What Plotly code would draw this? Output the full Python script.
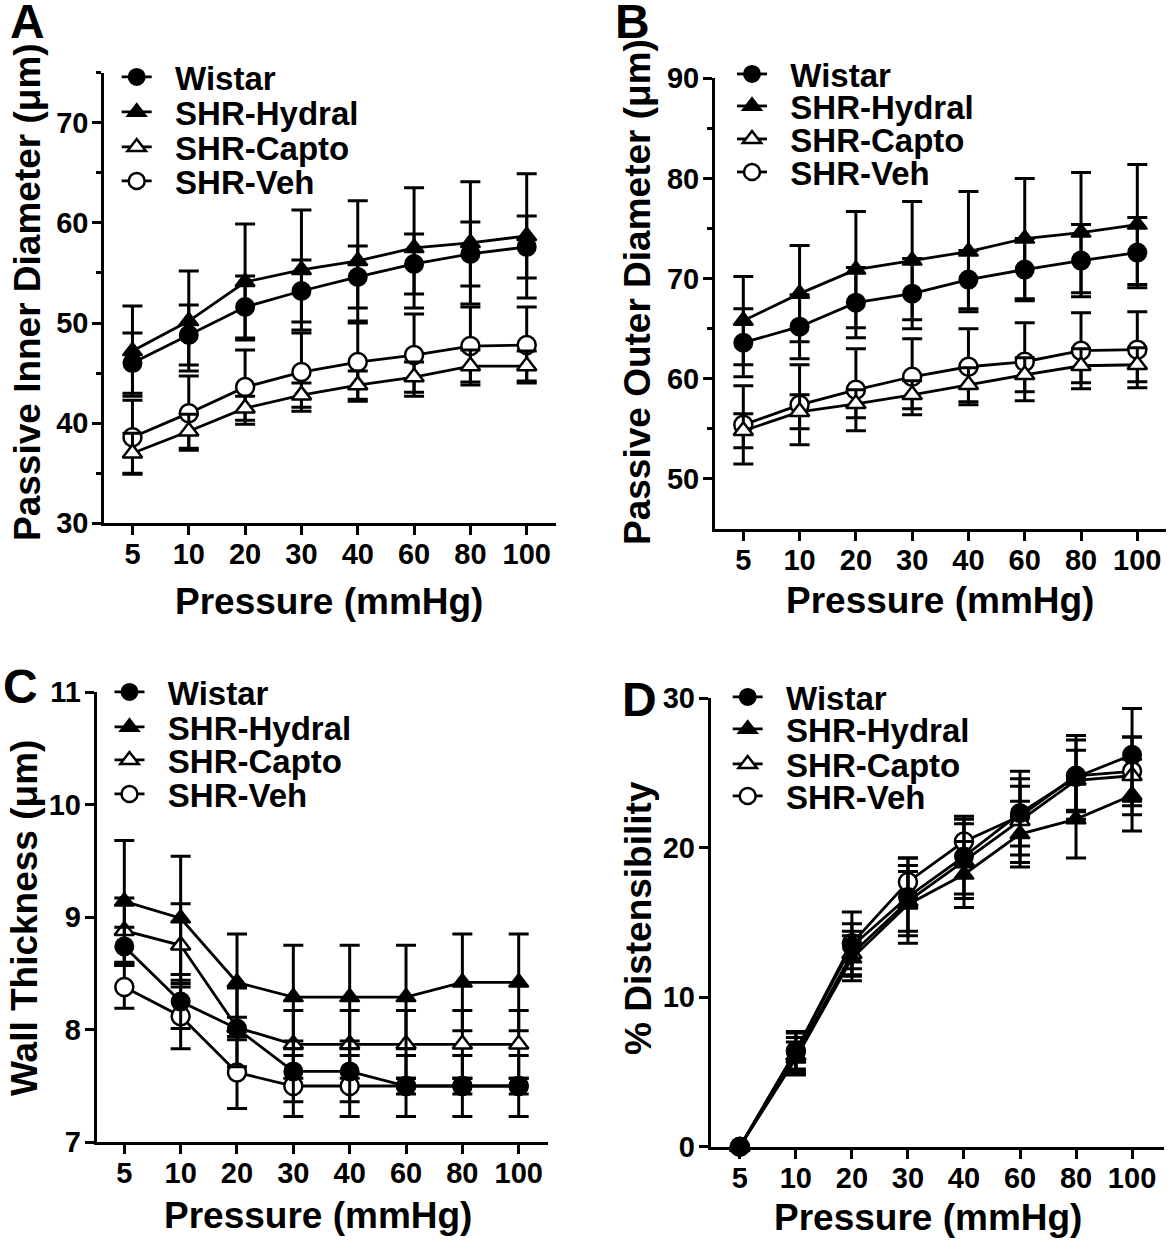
import plotly.graph_objects as go

# ---------------- data ----------------
pressure = ["5", "10", "20", "30", "40", "60", "80", "100"]
groups = ["Wistar", "SHR-Hydral", "SHR-Capto", "SHR-Veh"]

# Panel A: passive inner diameter (um)
inner_wistar = [46.0, 48.8, 51.6, 53.2, 54.6, 55.9, 56.9, 57.6]
inner_wistar_err = [3.0, 3.0, 3.1, 3.1, 3.1, 3.0, 3.2, 3.1]
inner_hydral = [47.2, 50.2, 54.1, 55.3, 56.2, 57.5, 58.0, 58.7]
inner_hydral_err = [4.5, 5.0, 5.8, 6.0, 6.0, 6.0, 6.1, 6.2]
inner_capto = [37.0, 39.2, 41.5, 42.8, 43.8, 44.6, 45.7, 45.7]
inner_capto_err = [2.0, 1.7, 1.2, 1.2, 1.4, 1.5, 1.6, 1.5]
inner_veh = [38.6, 41.0, 43.6, 45.1, 46.1, 46.8, 47.7, 47.8]
inner_veh_err = [3.7, 3.7, 3.7, 3.9, 3.9, 4.1, 3.9, 3.8]

# Panel B: passive outer diameter (um)
outer_wistar = [63.6, 65.2, 67.6, 68.5, 69.9, 70.9, 71.8, 72.6]
outer_wistar_err = [3.4, 3.2, 3.5, 3.5, 2.9, 3.1, 3.6, 3.5]
outer_hydral = [65.8, 68.5, 70.9, 71.8, 72.7, 74.0, 74.6, 75.4]
outer_hydral_err = [4.4, 4.8, 5.8, 5.9, 6.0, 6.0, 6.0, 6.0]
outer_capto = [54.8, 56.7, 57.5, 58.4, 59.4, 60.4, 61.3, 61.4]
outer_capto_err = [1.7, 1.7, 1.4, 1.4, 1.7, 1.7, 1.7, 1.7]
outer_veh = [55.4, 57.4, 58.9, 60.2, 61.2, 61.7, 62.8, 62.9]
outer_veh_err = [3.9, 4.0, 4.1, 3.8, 3.8, 3.9, 3.8, 3.8]

# Panel C: wall thickness (um)
wall_wistar = [8.74, 8.25, 8.01, 7.63, 7.63, 7.50, 7.50, 7.50]
wall_wistar_err = [0.17, 0.24, 0.10, 0.27, 0.27, 0.27, 0.27, 0.27]
wall_hydral = [9.14, 8.99, 8.42, 8.29, 8.29, 8.29, 8.42, 8.42]
wall_hydral_err = [0.54, 0.55, 0.43, 0.46, 0.46, 0.46, 0.43, 0.43]
wall_capto = [8.88, 8.75, 8.02, 7.87, 7.87, 7.87, 7.87, 7.87]
wall_capto_err = [0.29, 0.37, 0.35, 0.30, 0.30, 0.30, 0.30, 0.30]
wall_veh = [8.38, 8.12, 7.62, 7.50, 7.50, 7.50, 7.50, 7.50]
wall_veh_err = [0.19, 0.29, 0.32, 0.27, 0.27, 0.07, 0.07, 0.07]

# Panel D: % distensibility
dist_wistar = [0.0, 6.4, 13.4, 16.7, 19.4, 22.3, 24.7, 26.2]
dist_wistar_err = [0.0, 1.3, 1.5, 2.6, 2.5, 2.8, 2.8, 3.1]
dist_hydral = [0.0, 5.9, 12.6, 16.2, 18.2, 20.9, 21.9, 23.5]
dist_hydral_err = [0.0, 1.1, 1.5, 2.6, 2.2, 2.2, 2.6, 2.4]
dist_capto = [0.0, 6.1, 12.9, 16.4, 19.1, 21.8, 24.5, 24.8]
dist_capto_err = [0.0, 1.2, 1.5, 2.0, 2.5, 2.8, 2.0, 2.6]
dist_veh = [0.0, 6.4, 13.6, 17.7, 20.4, 22.1, 24.8, 25.1]
dist_veh_err = [0.0, 1.2, 2.1, 1.6, 1.7, 2.0, 2.4, 2.3]

# ---------------- layout helpers ----------------
W, H = 1169, 1251
FONT = "Liberation Sans, Arial, Helvetica, sans-serif"


def fx(px):
    return px / W


def fy(px):
    return 1 - px / H


styles = {
    "Wistar": dict(symbol="circle", size=18, color="black", line=dict(color="black", width=2)),
    "SHR-Hydral": dict(symbol="triangle-up", size=17, color="black", line=dict(color="black", width=2)),
    "SHR-Capto": dict(symbol="triangle-up", size=17, color="white", line=dict(color="black", width=2.5)),
    "SHR-Veh": dict(symbol="circle", size=18, color="white", line=dict(color="black", width=2.5)),
}

panels = [
    dict(letter="A", ax="", xdom=(104.3, 556), ydom=(523.3, 72.7), yrange=[30, 75],
         ytickvals=[30, 40, 50, 60, 70], minor=[35, 45, 55, 65, 75], xrange=[-0.5, 7.52],
         ytitle="Passive Inner Diameter (\u03bcm)", ytitle_pos=(28, 292), xtitle_pos=(329, 601),
         letter_pos=(27, 21), leg_x=137.7, leg_y=[77, 112, 147, 181],
         series={"Wistar": (inner_wistar, inner_wistar_err), "SHR-Hydral": (inner_hydral, inner_hydral_err),
                 "SHR-Capto": (inner_capto, inner_capto_err), "SHR-Veh": (inner_veh, inner_veh_err)}),
    dict(letter="B", ax="2", xdom=(715, 1166), ydom=(529, 78.3), yrange=[45, 90],
         ytickvals=[50, 60, 70, 80, 90], minor=[55, 65, 75, 85], xrange=[-0.503, 7.51],
         ytitle="Passive Outer Diameter (\u03bcm)", ytitle_pos=(638, 292), xtitle_pos=(940, 600),
         letter_pos=(632, 21), leg_x=753, leg_y=[74, 106, 139, 172],
         series={"Wistar": (outer_wistar, outer_wistar_err), "SHR-Hydral": (outer_hydral, outer_hydral_err),
                 "SHR-Capto": (outer_capto, outer_capto_err), "SHR-Veh": (outer_veh, outer_veh_err)}),
    dict(letter="C", ax="3", xdom=(96.7, 548), ydom=(1142.3, 692), yrange=[7, 11],
         ytickvals=[7, 8, 9, 10, 11], minor=[], xrange=[-0.49, 7.52],
         ytitle="Wall Thickness (\u03bcm)", ytitle_pos=(24, 918), xtitle_pos=(318, 1215),
         letter_pos=(20, 686), leg_x=130.5, leg_y=[692, 727, 760, 794],
         series={"Wistar": (wall_wistar, wall_wistar_err), "SHR-Hydral": (wall_hydral, wall_hydral_err),
                 "SHR-Capto": (wall_capto, wall_capto_err), "SHR-Veh": (wall_veh, wall_veh_err)}),
    dict(letter="D", ax="4", xdom=(710.7, 1164), ydom=(1146.7, 698), yrange=[0, 30],
         ytickvals=[0, 10, 20, 30], minor=[], xrange=[-0.52, 7.57],
         ytitle="% Distensibility", ytitle_pos=(638, 918), xtitle_pos=(928, 1217),
         letter_pos=(639, 699), leg_x=748.7, leg_y=[697, 729, 764, 796],
         series={"Wistar": (dist_wistar, dist_wistar_err), "SHR-Hydral": (dist_hydral, dist_hydral_err),
                 "SHR-Capto": (dist_capto, dist_capto_err), "SHR-Veh": (dist_veh, dist_veh_err)}),
]

fig = go.Figure()
layout = dict(
    width=W, height=H, autosize=False, showlegend=True,
    margin=dict(l=0, r=0, t=0, b=0, pad=0, autoexpand=False),
    paper_bgcolor="white", plot_bgcolor="white",
    font=dict(family=FONT, color="black", weight="bold"),
    annotations=[],
)

draw_order = ["SHR-Veh", "SHR-Capto", "SHR-Hydral", "Wistar"]
legend_counter = 1
legend_ids = {}
for p in panels:
    for g in groups:
        legend_counter += 1
        legend_ids[(p["letter"], g)] = "legend%d" % legend_counter

LEG_OFFSET = 21
for p in panels:
    ax = p["ax"]
    xname, yname = "xaxis" + ax, "yaxis" + ax
    layout[xname] = dict(
        domain=[fx(p["xdom"][0]), fx(p["xdom"][1])],
        anchor="y" + ax, type="category", range=p["xrange"],
        categoryorder="array", categoryarray=pressure,
        showline=True, linecolor="black", linewidth=3,
        ticks="outside", ticklen=9, tickwidth=3, tickcolor="black",
        ticklabelstandoff=-6,
        showgrid=False, zeroline=False, fixedrange=True,
        tickfont=dict(family=FONT, size=29, color="black", weight="bold"),
    )
    ydict = dict(
        domain=[fy(p["ydom"][0]), fy(p["ydom"][1])],
        anchor="x" + ax, range=p["yrange"],
        tickmode="array", tickvals=p["ytickvals"],
        showline=True, linecolor="black", linewidth=3,
        ticks="outside", ticklen=9, tickwidth=3, tickcolor="black",
        ticklabelstandoff=-2,
        showgrid=False, zeroline=False, fixedrange=True,
        tickfont=dict(family=FONT, size=29, color="black", weight="bold"),
    )
    if p["minor"]:
        ydict["minor"] = dict(tickmode="array", tickvals=p["minor"], ticks="outside",
                              ticklen=5, tickwidth=3, tickcolor="black", showgrid=False)
    layout[yname] = ydict

    for g in draw_order:
        vals, errs = p["series"][g]
        st = styles[g]
        fig.add_trace(go.Scatter(
            x=pressure, y=vals, name="\u00a0\u00a0" + g,
            xaxis="x" + ax, yaxis="y" + ax,
            mode="lines+markers", cliponaxis=False,
            line=dict(color="black", width=2.8),
            marker=dict(symbol=st["symbol"], size=st["size"], color=st["color"], line=st["line"]),
            error_y=dict(type="data", array=errs, visible=True, color="black", thickness=3, width=10),
            legend=legend_ids[(p["letter"], g)],
        ))

    for i, g in enumerate(groups):
        lid = legend_ids[(p["letter"], g)]
        layout[lid] = dict(
            x=fx(p["leg_x"] - LEG_OFFSET), y=fy(p["leg_y"][i]),
            xanchor="left", yanchor="middle", xref="paper", yref="paper",
            bgcolor="rgba(0,0,0,0)", borderwidth=0, visible=True,
            font=dict(family=FONT, size=33, color="black", weight="bold"),
            itemclick=False, itemdoubleclick=False,
        )

    layout["annotations"].append(dict(
        text=p["ytitle"], x=fx(p["ytitle_pos"][0]), y=fy(p["ytitle_pos"][1]),
        xref="paper", yref="paper", showarrow=False, textangle=-90,
        xanchor="center", yanchor="middle",
        font=dict(family=FONT, size=37, color="black", weight="bold")))
    layout["annotations"].append(dict(
        text="Pressure (mmHg)", x=fx(p["xtitle_pos"][0]), y=fy(p["xtitle_pos"][1]),
        xref="paper", yref="paper", showarrow=False,
        xanchor="center", yanchor="middle",
        font=dict(family=FONT, size=37, color="black", weight="bold")))
    layout["annotations"].append(dict(
        text=p["letter"], x=fx(p["letter_pos"][0]), y=fy(p["letter_pos"][1]),
        xref="paper", yref="paper", showarrow=False,
        xanchor="center", yanchor="middle",
        font=dict(family=FONT, size=48, color="black", weight="bold")))

# significance markers, anchored to the last data points
layout["annotations"].append(dict(
    text="*", x=pressure[-1], y=inner_capto[-1], xref="x", yref="y", showarrow=False,
    xshift=22, yshift=-12, font=dict(family=FONT, size=34, color="black", weight="bold")))
layout["annotations"].append(dict(
    text="*", x=pressure[-1], y=outer_veh[-1], xref="x2", yref="y2", showarrow=False,
    xshift=24, yshift=-2, font=dict(family=FONT, size=34, color="black", weight="bold")))
layout["annotations"].append(dict(
    text="*", x=pressure[-1], y=outer_capto[-1], xref="x2", yref="y2", showarrow=False,
    xshift=24, yshift=-17, font=dict(family=FONT, size=34, color="black", weight="bold")))

fig.update_layout(**layout)
fig.write_html("out.html", config={"displayModeBar": False, "staticPlot": True},
               post_script="document.body.style.margin='0';")
